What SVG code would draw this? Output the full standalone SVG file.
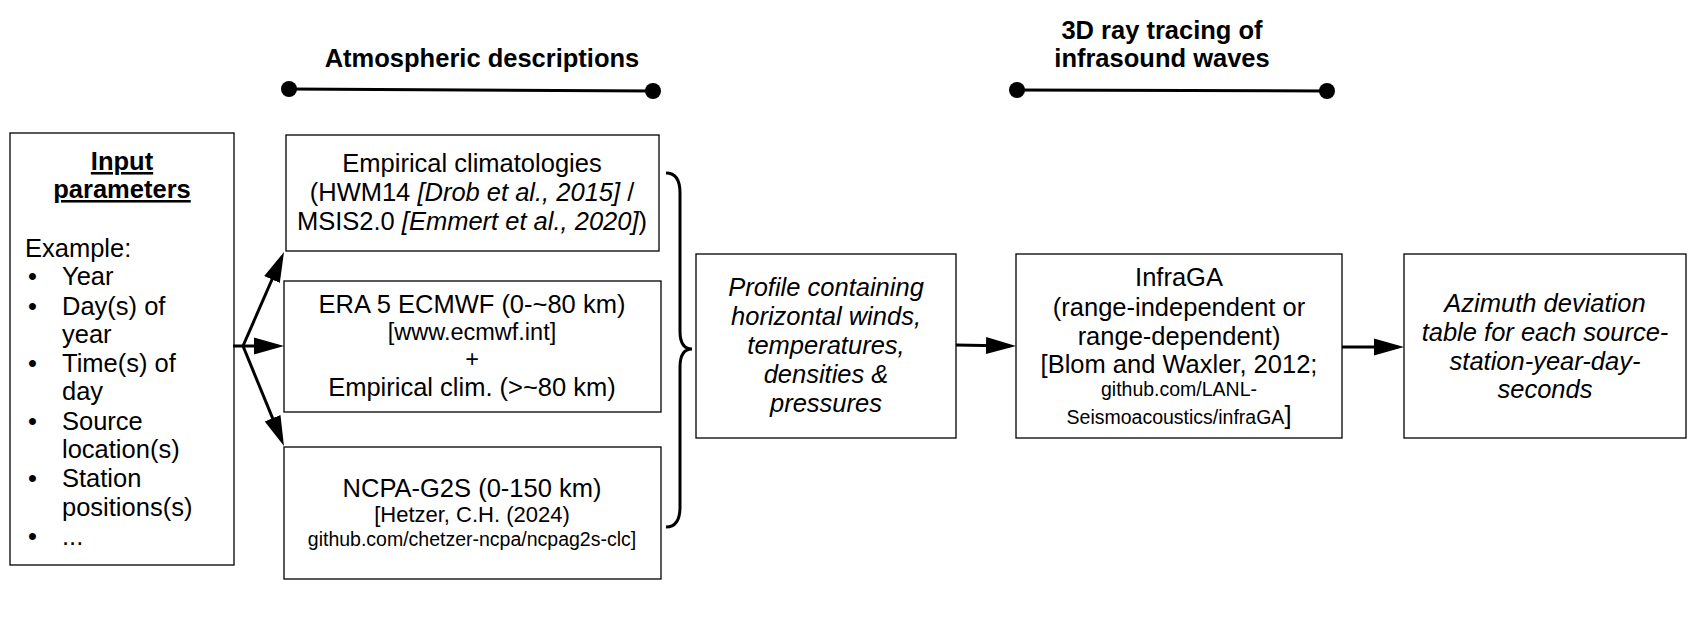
<svg xmlns="http://www.w3.org/2000/svg" width="1704" height="621" viewBox="0 0 1704 621">
<style>
text{font-family:"Liberation Sans",Arial,sans-serif;font-size:25.5px;fill:#000}
.c{text-anchor:middle}
.b{font-weight:bold}
.i{font-style:italic}
.s{font-size:22px}
.m{font-size:23.5px}
.xs{font-size:19.5px}
.box{fill:#fff;stroke:#000;stroke-width:1.3}
.ln{stroke:#000;stroke-width:3;fill:none}
.arr{stroke:#000;stroke-width:3;fill:none;marker-end:url(#ah)}
</style>
<defs>
<marker id="ah" markerUnits="userSpaceOnUse" markerWidth="32" markerHeight="20" viewBox="0 -10 32 20" refX="24" refY="0" orient="auto">
<path d="M0,-8.5 L30,0 L0,8.5 Z" fill="#000"/>
</marker>
</defs>
<rect width="1704" height="621" fill="#fff"/>

<g id="header-atmo">
<text class="c b" x="482" y="67">Atmospheric descriptions</text>
<line class="ln" x1="289" y1="89" x2="653" y2="91"/>
<circle cx="289" cy="89" r="8"/>
<circle cx="653" cy="91" r="8"/>
</g>

<g id="header-ray">
<text class="c b" x="1162" y="38.5">3D ray tracing of</text>
<text class="c b" x="1162" y="67">infrasound waves</text>
<line class="ln" x1="1017" y1="90" x2="1327" y2="91"/>
<circle cx="1017" cy="90" r="8"/>
<circle cx="1327" cy="91" r="8"/>
</g>

<g id="input">
<rect class="box" x="10" y="133" width="224" height="432"/>
<text class="c b" x="122" y="170" text-decoration="underline">Input</text>
<text class="c b" x="122" y="198" text-decoration="underline">parameters</text>
<text x="25" y="257">Example:</text>
<text x="28" y="285">•</text><text x="62" y="285">Year</text>
<text x="28" y="314.5">•</text><text x="62" y="314.5">Day(s) of</text>
<text x="62" y="343">year</text>
<text x="28" y="372">•</text><text x="62" y="372">Time(s) of</text>
<text x="62" y="400">day</text>
<text x="28" y="429.5">•</text><text x="62" y="429.5">Source</text>
<text x="62" y="458">location(s)</text>
<text x="28" y="487">•</text><text x="62" y="487">Station</text>
<text x="62" y="515.5">positions(s)</text>
<text x="28" y="545">•</text><text x="62" y="545">...</text>
</g>

<g id="empirical">
<rect class="box" x="286" y="135" width="373" height="116"/>
<text class="c" x="472" y="172">Empirical climatologies</text>
<text class="c" x="472" y="201">(HWM14 <tspan class="i">[Drob et al., 2015]</tspan> /</text>
<text class="c" x="472" y="230">MSIS2.0 <tspan class="i">[Emmert et al., 2020]</tspan>)</text>
</g>

<g id="era5">
<rect class="box" x="284" y="281" width="377" height="131"/>
<text class="c" x="472" y="312.5">ERA 5 ECMWF (0-~80 km)</text>
<text class="c m" x="472" y="340">[www.ecmwf.int]</text>
<text class="c m" x="472" y="367">+</text>
<text class="c" x="472" y="396">Empirical clim. (&gt;~80 km)</text>
</g>

<g id="ncpa">
<rect class="box" x="284" y="447" width="377" height="132"/>
<text class="c" x="472" y="496.5">NCPA-G2S (0-150 km)</text>
<text class="c s" x="472" y="522">[Hetzer, C.H. (2024)</text>
<text class="c xs" x="472" y="546">github.com/chetzer-ncpa/ncpag2s-clc]</text>
</g>

<g id="profile">
<rect class="box" x="696" y="254" width="260" height="184"/>
<text class="c i" x="826" y="296">Profile containing</text>
<text class="c i" x="826" y="325">horizontal winds,</text>
<text class="c i" x="826" y="354">temperatures,</text>
<text class="c i" x="826" y="383">densities &amp;</text>
<text class="c i" x="826" y="411.5">pressures</text>
</g>

<g id="infraga">
<rect class="box" x="1016" y="254" width="326" height="184"/>
<text class="c" x="1179" y="286">InfraGA</text>
<text class="c" x="1179" y="315.5">(range-independent or</text>
<text class="c" x="1179" y="344.5">range-dependent)</text>
<text class="c" x="1179" y="373">[Blom and Waxler, 2012;</text>
<text class="c xs" x="1179" y="396">github.com/LANL-</text>
<text class="c" x="1179" y="424"><tspan class="xs">Seismoacoustics/infraGA</tspan>]</text>
</g>

<g id="azimuth">
<rect class="box" x="1404" y="254" width="282" height="184"/>
<text class="c i" x="1545" y="312">Azimuth deviation</text>
<text class="c i" x="1545" y="340.5">table for each source-</text>
<text class="c i" x="1545" y="369.5">station-year-day-</text>
<text class="c i" x="1545" y="398">seconds</text>
</g>

<g id="connectors">
<line class="ln" x1="233" y1="346" x2="244" y2="346"/>
<line class="arr" x1="243" y1="346" x2="281.6" y2="257.5"/>
<line class="arr" x1="243" y1="346" x2="278" y2="346"/>
<line class="arr" x1="243" y1="346" x2="281.7" y2="440.4"/>
<path class="ln" d="M666,173 C676,173 680,180 680,193 L680,331 C680,343 684,349 692,349 C684,349 680,355 680,367 L680,507 C680,520 676,527 666,527"/>
<line class="arr" x1="956" y1="345" x2="1010" y2="346"/>
<line class="arr" x1="1342" y1="347" x2="1398" y2="347"/>
</g>
</svg>
